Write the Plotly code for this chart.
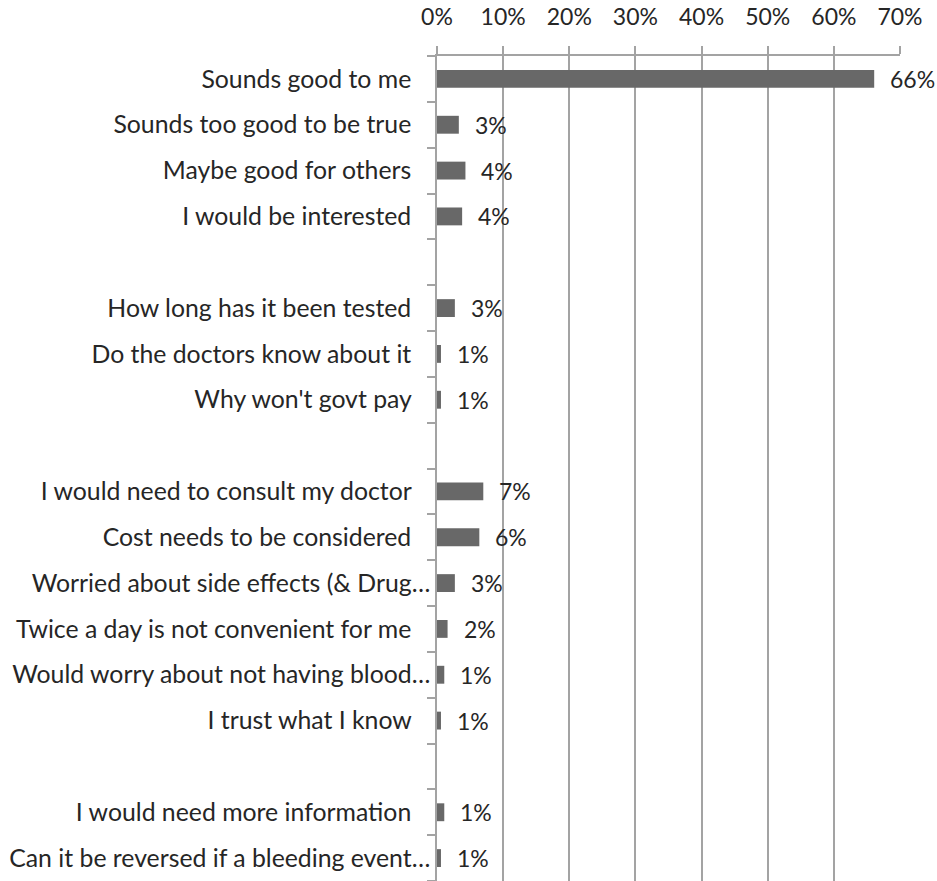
import plotly.graph_objects as go

# Response categories, top to bottom; whitespace-only entries are spacer rows between groups
categories = [
    "Sounds good to me",
    "Sounds too good to be true",
    "Maybe good for others",
    "I would be interested",
    " ",
    "How long has it been tested",
    "Do the doctors know about it",
    "Why won't govt pay",
    "  ",
    "I would need to consult my doctor",
    "Cost needs to be considered",
    "Worried about side effects (& Drug…",
    "Twice a day is not convenient for me",
    "Would worry about not having blood…",
    "I trust what I know",
    "   ",
    "I would need more information",
    "Can it be reversed if a bleeding event…",
]

# Share of respondents (%); None for spacer rows
shares = [66.1, 3.3, 4.3, 3.8, None, 2.7, 0.6, 0.6, None,
          7.0, 6.4, 2.7, 1.6, 1.1, 0.6, None, 1.1, 0.6]

x_ticks = [0, 10, 20, 30, 40, 50, 60, 70]
x_tick_labels = ["0%", "10%", "20%", "30%", "40%", "50%", "60%", "70%"]

FONT = "Lato"
TEXT = "#262626"
GRID = "#a3a3a3"
NBSP = "\u00a0"

# full labels sit a little further from the axis than the truncated ones
tick_text = [c if c.endswith("…") else c + NBSP * 3 for c in categories]

fig = go.Figure(
    go.Bar(
        x=shares,
        y=categories,
        orientation="h",
        marker=dict(color="#686868", line=dict(width=0)),
        hoverinfo="skip",
    )
)

# value labels just right of each bar end
for cat, v in zip(categories, shares):
    if v is None:
        continue
    fig.add_annotation(
        x=v, y=cat, text=f"{round(v)}%", showarrow=False,
        xanchor="left", yanchor="middle", xshift=14,
        font=dict(family=FONT, size=23, color=TEXT),
    )

fig.update_layout(
    width=937,
    height=881,
    margin=dict(l=437, r=37, t=56, b=0),
    paper_bgcolor="white",
    plot_bgcolor="white",
    bargap=0.61,
    showlegend=False,
    font=dict(family=FONT, size=23, color=TEXT),
    xaxis=dict(
        side="top",
        range=[0, 70],
        tickvals=x_ticks,
        ticktext=x_tick_labels,
        showgrid=True,
        gridcolor=GRID,
        gridwidth=1.5,
        zeroline=False,
        showline=True,
        linecolor=GRID,
        linewidth=1.5,
        ticks="outside",
        ticklen=8,
        tickcolor=GRID,
        tickwidth=1.5,
        ticklabelstandoff=12,
        tickfont=dict(family=FONT, size=23, color=TEXT),
    ),
    yaxis=dict(
        type="category",
        categoryorder="array",
        categoryarray=categories,
        tickvals=categories,
        ticktext=tick_text,
        autorange="reversed",
        tickson="boundaries",
        ticks="outside",
        ticklen=8,
        tickcolor=GRID,
        tickwidth=1.5,
        showline=True,
        linecolor=GRID,
        linewidth=1.5,
        showgrid=False,
        ticklabelstandoff=0,
        tickfont=dict(family=FONT, size=24.8, color=TEXT),
    ),
)

fig.write_html("out.html")
